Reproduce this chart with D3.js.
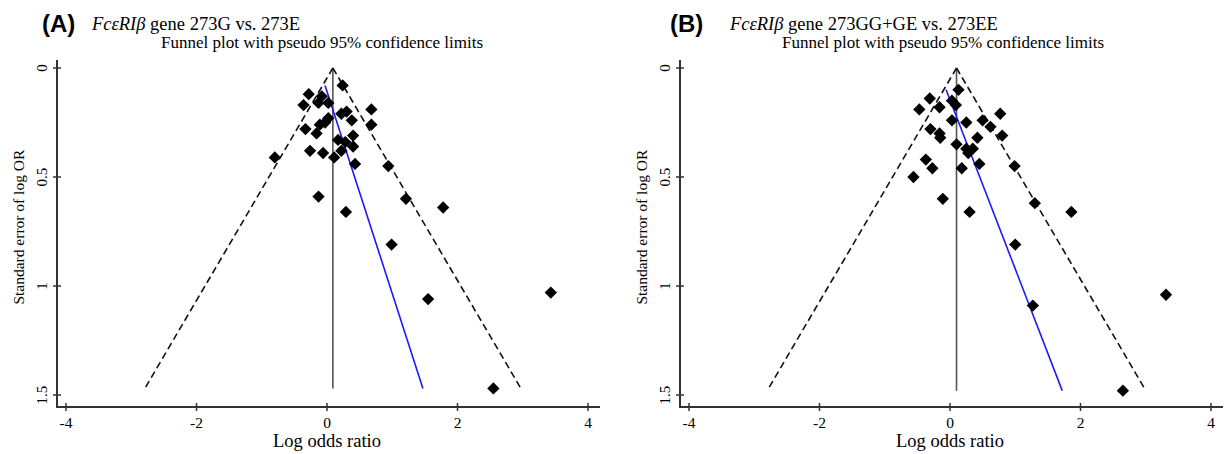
<!DOCTYPE html>
<html>
<head>
<meta charset="utf-8">
<script src="https://cdn.jsdelivr.net/npm/d3@7"></script>
<style>
  body { margin: 0; background: #fff; }
  svg { display: block; }
</style>
</head>
<body>
<svg id="chart" width="1229" height="454"></svg>
<script>
// panel A: 273G vs. 273E
const logOrA = [0.24, -0.28, -0.08, -0.36, -0.13, 0.02, 0.68, 0.22, 0.30, 0.38, 0.02, -0.03, 0.68,
  -0.33, -0.11, -0.16, 0.40, 0.17, 0.28, 0.40, -0.26, -0.06, 0.22, 0.11, -0.80, 0.43, 0.94,
  -0.13, 1.21, 0.29, 1.78, 0.99, 1.55, 3.43, 2.55];
const seA = [0.08, 0.12, 0.13, 0.17, 0.16, 0.16, 0.19, 0.21, 0.20, 0.24, 0.23, 0.25, 0.26,
  0.28, 0.26, 0.30, 0.31, 0.33, 0.34, 0.36, 0.38, 0.39, 0.38, 0.41, 0.41, 0.44, 0.45,
  0.59, 0.60, 0.66, 0.64, 0.81, 1.06, 1.03, 1.47];

// panel B: 273GG+GE vs. 273EE
const logOrB = [0.13, -0.31, -0.47, -0.16, 0.03, 0.09, 0.77, 0.03, 0.25, 0.50, 0.62, -0.30, -0.16,
  -0.15, 0.80, 0.42, 0.10, 0.25, 0.35, 0.28, -0.37, -0.27, 0.18, 0.45, 0.99, -0.56, -0.11,
  0.30, 1.30, 1.86, 1.00, 1.27, 3.31, 2.65];
const seB = [0.10, 0.14, 0.19, 0.18, 0.15, 0.17, 0.21, 0.24, 0.25, 0.24, 0.27, 0.28, 0.30,
  0.32, 0.31, 0.32, 0.35, 0.37, 0.37, 0.39, 0.42, 0.46, 0.46, 0.44, 0.45, 0.50, 0.60,
  0.66, 0.62, 0.66, 0.81, 1.09, 1.04, 1.48];

// pooled estimate and max SE for the pseudo 95% limits
const pooled = [0.09, 0.10];
const seMax = [1.47, 1.48];
// regression line ends: [logOR, se]
const eggerA = [[-0.03, 0.08], [1.47, 1.47]];
const eggerB = [[-0.06, 0.10], [1.72, 1.48]];

const xTicks = [-4, -2, 0, 2, 4];
const yTicks = [0, 0.5, 1, 1.5];
const panelLetters = ["(A)", "(B)"];
const geneTitles = ["gene 273G vs. 273E", "gene 273GG+GE vs. 273EE"];
const subTitle = "Funnel plot with pseudo 95% confidence limits";

const SERIF = "'Liberation Serif', 'Times New Roman', serif";
const svg = d3.select("#chart");

function drawPanel(i, xs, ses, egger, left) {
  const g = svg.append("g").attr("transform", "translate(" + left + ",0)");
  const axisX0 = 57, axisX1 = 600, axisY = 407;

  const x = d3.scaleLinear().domain([-4, 4]).range([66, 588]);
  const y = d3.scaleLinear().domain([0, 1.5]).range([68, 395]);

  // titles
  g.append("text").attr("x", i === 0 ? 42 : 47).attr("y", 32)
    .attr("font-family", "'Liberation Sans', Arial, sans-serif")
    .attr("font-weight", "bold").attr("font-size", 24)
    .text(panelLetters[i]);
  const t = g.append("text").attr("font-family", SERIF)
    .attr("x", i === 0 ? 92 : 107).attr("y", 30).attr("font-size", 18.5);
  t.append("tspan").attr("font-style", "italic").text("FcεRIβ");
  t.append("tspan").text(" " + geneTitles[i]);
  g.append("text").attr("font-family", SERIF)
    .attr("x", i === 0 ? 322 : 320).attr("y", 48)
    .attr("text-anchor", "middle").attr("font-size", 17)
    .text(subTitle);

  // axes lines
  g.append("line").attr("x1", axisX0).attr("x2", axisX1)
    .attr("y1", axisY).attr("y2", axisY)
    .attr("stroke", "#333").attr("stroke-width", 2);
  g.append("line").attr("x1", axisX0).attr("x2", axisX0)
    .attr("y1", 60).attr("y2", axisY + 1)
    .attr("stroke", "#333").attr("stroke-width", 2);

  // x ticks
  g.selectAll(".xt").data(xTicks).enter().append("line")
    .attr("x1", d => x(d)).attr("x2", d => x(d))
    .attr("y1", axisY - 4).attr("y2", axisY + 4)
    .attr("stroke", "#333").attr("stroke-width", 1.5);
  g.selectAll(".xl").data(xTicks).enter().append("text")
    .attr("font-family", SERIF)
    .attr("x", d => x(d)).attr("y", 428)
    .attr("text-anchor", "middle").attr("font-size", 15.5)
    .text(d => d);
  g.append("text").attr("font-family", SERIF)
    .attr("x", x(0)).attr("y", 447)
    .attr("text-anchor", "middle").attr("font-size", 18.5)
    .text("Log odds ratio");

  // y ticks (labels read bottom to top)
  g.selectAll(".yt").data(yTicks).enter().append("line")
    .attr("x1", axisX0 - 4).attr("x2", axisX0 + 4)
    .attr("y1", d => y(d)).attr("y2", d => y(d))
    .attr("stroke", "#333").attr("stroke-width", 1.5);
  g.selectAll(".yl").data(yTicks).enter().append("text")
    .attr("font-family", SERIF)
    .attr("transform", d => "translate(47," + y(d) + ") rotate(-90)")
    .attr("text-anchor", "middle").attr("font-size", 15)
    .text(d => d);
  g.append("text").attr("font-family", SERIF)
    .attr("transform", "translate(24," + y(0.73) + ") rotate(-90)")
    .attr("text-anchor", "middle").attr("font-size", 15.5)
    .text("Standard error of log OR");

  // vertical line at pooled estimate
  g.append("line")
    .attr("x1", x(pooled[i])).attr("x2", x(pooled[i]))
    .attr("y1", y(0)).attr("y2", y(seMax[i]))
    .attr("stroke", "#555").attr("stroke-width", 1.6);

  // pseudo 95% limits
  const lim = d3.line().x(d => x(d[0])).y(d => y(d[1]));
  [-1, 1].forEach(s => {
    g.append("path")
      .attr("d", lim([[pooled[i], 0], [pooled[i] + s * 1.96 * seMax[i], seMax[i]]]))
      .attr("fill", "none").attr("stroke", "#111")
      .attr("stroke-width", 1.6).attr("stroke-dasharray", "7,4");
  });

  // regression line
  g.append("path").attr("d", lim(egger))
    .attr("fill", "none").attr("stroke", "#1a1aff").attr("stroke-width", 1.6);

  // study points
  const diamond = d3.symbol().type(d3.symbolSquare).size(76);
  g.selectAll(".pt").data(d3.range(xs.length)).enter().append("path")
    .attr("d", diamond)
    .attr("transform", k => "translate(" + x(xs[k]) + "," + y(ses[k]) + ") rotate(45)")
    .attr("fill", "#000");
}

drawPanel(0, logOrA, seA, eggerA, 0);
drawPanel(1, logOrB, seB, eggerB, 623);
</script>
</body>
</html>
